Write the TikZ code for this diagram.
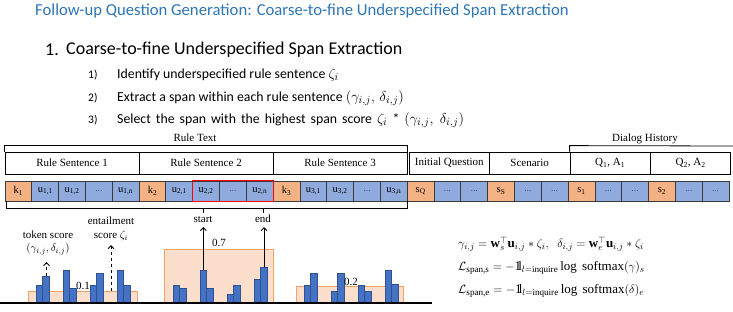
\documentclass[tikz,border=0pt]{standalone}
\usepackage{amsmath,amssymb}
\usepackage{fontspec}
\setmainfont{Liberation Serif}
\newfontfamily\calibri{Carlito}
\usetikzlibrary{arrows.meta}
\newcommand{\onebb}{\mathrm{1\mkern-4.2mu l}}
\newcommand{\lgmath}[1]{{\fontsize{15}{15}\selectfont$#1$}}
\definecolor{tokor}{HTML}{F4B183}
\definecolor{tokbl}{HTML}{8FAADC}
\definecolor{titleblue}{HTML}{2E75B6}
\definecolor{barblue}{HTML}{4472C4}
\definecolor{bardark}{HTML}{2F528F}
\definecolor{boxfill}{HTML}{FBDFCC}
\definecolor{boxedge}{HTML}{F5A262}
\definecolor{tokedge}{HTML}{3A3A3A}
\begin{document}
\begin{tikzpicture}[x=1pt,y=-1pt,
  tok/.style={draw=tokedge,line width=0.8pt,minimum width=26.815pt,minimum height=20pt,inner sep=0pt,font=\fontsize{10.5}{12}\selectfont},
  sent/.style={draw=black,line width=0.8pt,minimum height=22pt,inner sep=0pt,font=\fontsize{11}{13}\selectfont},
  lbl/.style={inner sep=0pt,font=\fontsize{11}{12}\selectfont,align=center},
  bar/.style={fill=barblue,draw=bardark,line width=0.6pt},
  obox/.style={fill=boxfill,draw=boxedge,line width=1pt},
  barb/.style={-{Straight Barb[length=3pt,width=6pt]},line width=0.9pt},
  brk/.style={draw=black,line width=0.8pt},
  itemtxt/.style={anchor=west,inner sep=0pt,font=\calibri\fontsize{13.8}{15}\selectfont},
  itemnum/.style={anchor=west,inner sep=0pt,font=\calibri\fontsize{11.5}{13}\selectfont}]
\useasboundingbox (0,0) rectangle (733,311);

% title and list
\node[anchor=west,inner sep=0pt,text=titleblue,font=\calibri\fontsize{16.7}{18}\selectfont] (title) at (35,11) {Follow-up Question Generation: Coarse-to-fine Underspecified Span Extraction};
\node[anchor=west,inner sep=0pt,font=\calibri\fontsize{18}{20}\selectfont] (h1n) at (45,50) {1.};
\node[anchor=west,inner sep=0pt,font=\calibri\fontsize{18}{20}\selectfont] (h1) at (66,50) {Coarse-to-fine Underspecified Span Extraction};
\node[itemnum] (it1) at (88,75) {1)};
\node[itemnum] (it2) at (88,98) {2)};
\node[itemnum] (it3) at (88,120) {3)};
\node[itemtxt] (itt1) at (117,75) {Identify underspecified rule sentence \lgmath{\zeta_i}};
\node[itemtxt] (itt2) at (117,98) {Extract a span within each rule sentence \lgmath{(\gamma_{i,j},\,\delta_{i,j})}};
\node[itemtxt] (itt3) at (117,120) {\spaceskip=5pt Select the span with the highest span score \lgmath{\zeta_i} * \lgmath{(\gamma_{i,j},\;\delta_{i,j})}};

% sentence boxes
\node[sent,minimum width=133.9pt] (rs1) at (72.0,163) {Rule Sentence 1};
\node[sent,minimum width=133.9pt] (rs2) at (206.0,163) {Rule Sentence 2};
\node[sent,minimum width=133.9pt] (rs3) at (340.0,163) {Rule Sentence 3};
\node[sent,minimum width=80.4pt] (iq) at (449.3,163) {Initial Question};
\node[sent,minimum width=80.4pt] (sc) at (529.7,163) {Scenario};
\node[sent,minimum width=80.4pt] (qa1) at (610.2,163) {Q\textsubscript{1}, A\textsubscript{1}};
\node[sent,minimum width=80.4pt] (qa2) at (690.6,163) {Q\textsubscript{2}, A\textsubscript{2}};

% brackets
\node[lbl] (rt) at (195,138) {Rule Text};
\node[lbl] (dh) at (645,139) {Dialog History};
\draw[brk] (rs1.north west) -- ++(0,-6) -| (rs3.north east);
\draw[brk] (qa1.north west) -- ++(0,-6) -- (733,146);

% tokens
\newcommand{\dd}{{\fontsize{7}{8}\selectfont\ldots}}
\foreach \lab/\col [count=\i] in {
  {k\textsubscript{1}}/tokor, {u\textsubscript{1,1}}/tokbl, {u\textsubscript{1,2}}/tokbl, {\dd}/tokbl, {u\textsubscript{1,n}}/tokbl,
  {k\textsubscript{2}}/tokor, {u\textsubscript{2,1}}/tokbl, {u\textsubscript{2,2}}/tokbl, {\dd}/tokbl, {u\textsubscript{2,n}}/tokbl,
  {k\textsubscript{3}}/tokor, {u\textsubscript{3,1}}/tokbl, {u\textsubscript{3,2}}/tokbl, {\dd}/tokbl, {u\textsubscript{3,n}}/tokbl,
  {s\textsubscript{Q}}/tokor, {\dd}/tokbl, {\dd}/tokbl,
  {s\textsubscript{S}}/tokor, {\dd}/tokbl, {\dd}/tokbl,
  {s\textsubscript{1}}/tokor, {\dd}/tokbl, {\dd}/tokbl,
  {s\textsubscript{2}}/tokor, {\dd}/tokbl, {\dd}/tokbl}{
  \node[tok,fill=\col] (t\i) at ({5+(\i-0.5)*26.815},191) {\lab};
}
\draw[red,line width=1.6pt] (t8.north west) rectangle (t10.south east);

% bottom bracket and ticks
\draw[brk] ([xshift=2pt]t1.south west) -- ++(0,7) coordinate (bl) -| (t15.south east);
\coordinate (tkS) at (203,208);
\coordinate (tkE) at (263,208);
\draw[brk] (tkS) -- ++(0,5);
\draw[brk] (tkE) -- ++(0,5);

% orange boxes
\draw[obox] (28,303) rectangle (137,291);
\draw[obox] (164,303) rectangle (273,249);
\draw[obox] (296,303) rectangle (403,286);

% bars
\foreach \x/\t in {36/285,42.7/276,63/270,69.7/288,90/285,96.7/273,117/270,123.7/285,
                   173/285,179.7/288,200/270,206.7/288,227/294,233.7/285,254/279,260.7/267,
                   304/285,310.7/273,331/291,337.7/273,358/285,364.7/291,385/270,391.7/284}{
  \draw[bar] (\x,303) rectangle ({\x+6.7},\t);
}
\draw[line width=1.4pt] (0,303) -- (432,303);

% values
\node[lbl] (v1) at (83,286) {0.1};
\node[lbl] (v7) at (219,243) {0.7};
\node[lbl] (v2) at (351,282) {0.2};

% annotations
\node[lbl] (ts) at (48,235) {token score};
\node[lbl] (tsg) at (48,249) {$(\gamma_{i,j},\delta_{i,j})$};
\node[lbl] (es) at (111,221) {entailment};
\node[lbl] (esz) at (111,236) {score $\zeta_i$};
\node[lbl] (st) at (203,219) {start};
\node[lbl] (en) at (263,219) {end};
\coordinate (tsa) at (46.5,276);
\coordinate (esa) at (111,291);
\coordinate (sta) at (203.3,270);
\coordinate (ena) at (264,267);
\draw[barb,dashed] (tsa) -- (46.5,262);
\draw[barb,dashed] (esa) -- (111,245);
\draw[barb] (sta) -- (203.3,227);
\draw[barb] (ena) -- (264,227);

% formulas
\node[anchor=west,inner sep=0pt,font=\fontsize{13}{15}\selectfont] (f1) at (458,244)
  {$\gamma_{i,j} = \mathbf{w}_s^{\top}\mathbf{u}_{i,j} * \zeta_i,\ \ \delta_{i,j} = \mathbf{w}_e^{\top}\mathbf{u}_{i,j} * \zeta_i$};
\node[anchor=west,inner sep=0pt,font=\fontsize{13}{15}\selectfont] (f2) at (458,268)
  {$\mathcal{L}_{\text{span,s}} = -\onebb_{l=\text{inquire}}\log\ \text{softmax}(\gamma)_s$};
\node[anchor=west,inner sep=0pt,font=\fontsize{13}{15}\selectfont] (f3) at (458,291)
  {$\mathcal{L}_{\text{span,e}} = -\onebb_{l=\text{inquire}}\log\ \text{softmax}(\delta)_e$};
\end{tikzpicture}
\end{document}
